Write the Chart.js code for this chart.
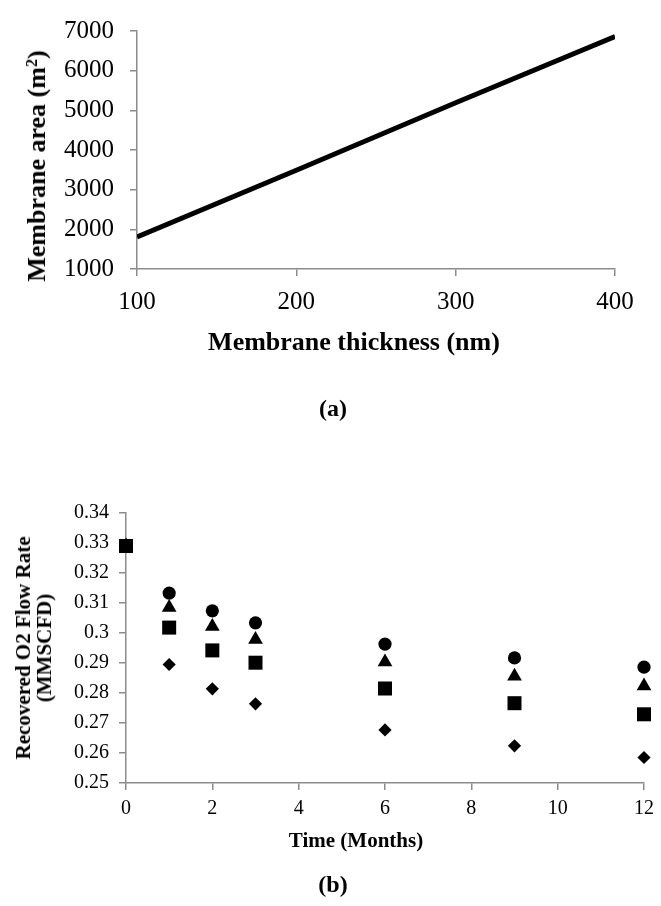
<!DOCTYPE html>
<html>
<head>
<meta charset="utf-8">
<title>Membrane area and recovered O2 flow rate</title>
<script src="https://cdn.jsdelivr.net/npm/chart.js@4.4.1/dist/chart.umd.min.js"></script>
<style>
  body { margin: 0; background: #fff; }
  #page { position: relative; width: 661px; height: 906px; font-family: "Liberation Serif", "Times New Roman", serif; color: #000; }
  canvas { position: absolute; left: 0; }
  .lbl { position: absolute; font-weight: bold; white-space: nowrap; line-height: 1; transform: translate(-50%, -50%); }
  .rot { text-align: center; transform: translate(-50%, -50%) rotate(-90deg); }
  sup { font-size: 0.62em; vertical-align: 0.5em; line-height: 0; }
</style>
</head>
<body>
<div id="page">
  <canvas id="chartA" width="661" height="440" style="top:0"></canvas>
  <canvas id="chartB" width="661" height="456" style="top:450px"></canvas>

  <!-- axis titles and captions, placed where the original figure has them -->
  <div class="lbl rot" style="left:37px; top:166px; font-size:26px">Membrane area (m<sup>2</sup>)</div>
  <div class="lbl" style="left:354px; top:342px; font-size:26px">Membrane thickness (nm)</div>
  <div class="lbl" style="left:333px; top:408px; font-size:24px">(a)</div>
  <div class="lbl rot" style="left:34px; top:648px; font-size:21px; line-height:21px">Recovered O2 Flow Rate<br>(MMSCFD)</div>
  <div class="lbl" style="left:356px; top:840px; font-size:21px">Time (Months)</div>
  <div class="lbl" style="left:333px; top:884px; font-size:24px">(b)</div>
</div>

<script>
// (a) membrane area vs thickness
const thicknessNm = [100, 200, 300, 400];
const membraneArea = [1810, 3490, 5190, 6860];

// (b) recovered O2 flow rate over time, one array per marker
const months = [0, 1, 2, 3, 6, 9, 12];
const flowSquare   = [0.329, 0.3018, 0.2942, 0.2901, 0.2815, 0.2766, 0.2729];
const flowCircle   = [0.329, 0.3133, 0.3074, 0.3034, 0.2963, 0.2917, 0.2886];
const flowTriangle = [0.329, 0.3085, 0.3022, 0.2978, 0.2903, 0.2856, 0.2823];
const flowDiamond  = [0.329, 0.2895, 0.2814, 0.2764, 0.2677, 0.2624, 0.2585];

const axisGrey = '#8c8c8c';
const serif = '"Liberation Serif", "Times New Roman", serif';

function toPoints(xs, ys) {
  return xs.map((x, i) => ({ x: x, y: ys[i] }));
}

// builds an Excel-looking axis: grey line, outside tick marks, no gridlines
function makeAxis(min, max, step, fontSize, pad, fixProp, fixPx, fmt) {
  return {
    type: 'linear',
    min: min,
    max: max,
    afterFit(scale) { scale[fixProp] = fixPx; },
    grid: { drawOnChartArea: false, drawTicks: true, tickLength: 7, color: axisGrey, lineWidth: 1.5 },
    border: { display: true, color: axisGrey, width: 1.5 },
    ticks: {
      stepSize: step,
      padding: pad,
      color: '#000',
      font: { family: serif, size: fontSize },
      callback: fmt || (v => String(v))
    }
  };
}

Chart.defaults.animation = false;

new Chart(document.getElementById('chartA'), {
  type: 'scatter',
  data: {
    datasets: [{
      label: 'Membrane area',
      data: toPoints(thicknessNm, membraneArea),
      showLine: true,
      borderColor: '#000',
      borderWidth: 5,
      borderCapStyle: 'butt',
      pointRadius: 0,
      tension: 0
    }]
  },
  options: {
    responsive: false,
    devicePixelRatio: 1,
    layout: { padding: { top: 21, right: 46, left: 0, bottom: 0 } },
    plugins: { legend: { display: false }, tooltip: { enabled: false } },
    scales: {
      x: makeAxis(100, 400, 100, 25, 11, 'height', 171),
      y: makeAxis(1000, 7000, 1000, 25, 16, 'width', 137)
    }
  }
});

function markerSet(label, values, style, radius) {
  return {
    label: label,
    data: toPoints(months, values),
    pointStyle: style,
    pointRadius: radius,
    backgroundColor: '#000',
    borderColor: '#000',
    borderWidth: 0,
    clip: false
  };
}

new Chart(document.getElementById('chartB'), {
  type: 'scatter',
  data: {
    // first dataset is drawn on top (square hides the others at month 0)
    datasets: [
      markerSet('Square', flowSquare, 'rect', 9.9),
      markerSet('Circle', flowCircle, 'circle', 6.6),
      markerSet('Triangle', flowTriangle, 'triangle', 8.5),
      markerSet('Diamond', flowDiamond, 'rectRot', 6.6)
    ]
  },
  options: {
    responsive: false,
    devicePixelRatio: 1,
    layout: { padding: { top: 63, right: 12, left: 0, bottom: 0 } },
    plugins: { legend: { display: false }, tooltip: { enabled: false } },
    scales: {
      x: makeAxis(0, 12, 2, 20, 7, 'height', 123),
      y: makeAxis(0.25, 0.34, 0.01, 20, 10, 'width', 126, v => String(+v.toFixed(2)))
    }
  }
});
</script>
</body>
</html>
